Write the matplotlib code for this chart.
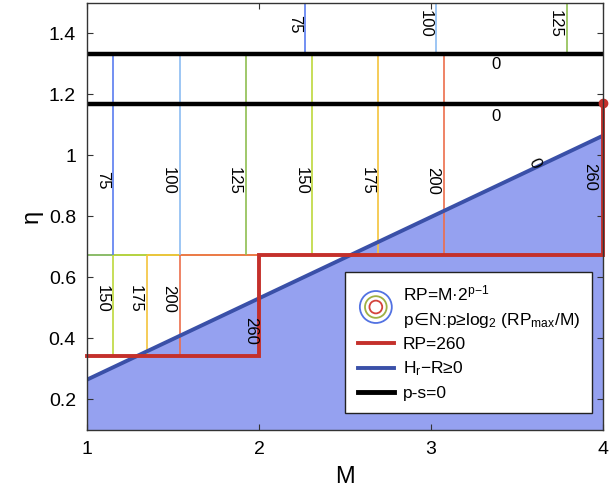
import matplotlib
matplotlib.use('Agg')
import matplotlib.pyplot as plt
from matplotlib.lines import Line2D
from matplotlib.patches import Circle
from matplotlib.legend_handler import HandlerBase
from matplotlib.ticker import FormatStrFormatter

plt.rcParams.update({
    'font.family': ['Liberation Sans', 'DejaVu Sans'],
    'font.size': 12,
    'mathtext.fontset': 'custom',
    'mathtext.rm': 'Liberation Sans',
    'mathtext.it': 'Liberation Sans',
    'mathtext.sf': 'DejaVu Sans',
    'mathtext.default': 'regular',
    'xtick.direction': 'in',
    'ytick.direction': 'in',
})

# ── Datos ────────────────────────────────────────────────────────────────────
# bandas de eta (límites)
ETA_LOW = [0.341, 0.675]
ETA_MID = [0.675, 1.333]
ETA_TOP = [1.333, 1.5]

# contornos RP: niveles y posición M en cada banda
LEVELS_LOW = [150, 175, 200]
M_LOW      = [1.154, 1.346, 1.538]
LEVELS_MID = [75, 100, 125, 150, 175, 200]
M_MID      = [1.154, 1.538, 1.923, 2.308, 2.692, 3.077]
LEVELS_TOP = [75, 100, 125]
M_TOP      = [2.27, 3.03, 3.79]

LEVEL_COLORS = {75: '#5a7df0', 100: '#8cbcf2', 125: '#8fbf52',
                150: '#bdd83c', 175: '#f4c43c', 200: '#ec6e4c'}

# RP = 260 (escalón rojo)
RP260_M   = [1, 2, 2, 4, 4]
RP260_ETA = [0.341, 0.341, 0.675, 0.675, 1.172]

# Hr - R >= 0 (recta azul)
HR_M   = [1, 4]
HR_ETA = [0.265, 1.065]

# p - s = 0 (rectas negras)
PS_ETA = [1.17, 1.333]

XLIM = (1, 4)
YLIM = (0.1, 1.5)

RED   = '#c4302b'
BLUE  = '#3a50a8'
FILL  = '#95a1f0'


class CirclesHandler(HandlerBase):
    # círculos concéntricos, bajados medio renglón (la etiqueta ocupa dos)
    def create_artists(self, legend, orig_handle, xdescent, ydescent,
                       width, height, fontsize, trans):
        cx = width / 2 - xdescent
        cy = height / 2 - ydescent - 0.72 * fontsize
        arts = []
        for r, c in zip([11.5, 7.8, 4.6], ['#5272e2', '#9fb044', '#d4433c']):
            arts.append(Circle((cx, cy), r, fill=False, ec=c, lw=1.3,
                               transform=trans))
        return arts


fig = plt.figure(figsize=(6.11, 4.99), dpi=100)
ax = fig.add_axes([0.1424, 0.1383, 0.8445, 0.8557])

# región Hr - R >= 0
ax.fill_between(HR_M, YLIM[0], HR_ETA, color=FILL, lw=0, zorder=1)

# horizontales de los contornos en el límite de bandas (x entre 1 y 2)
for lev, m in zip(LEVELS_MID, M_MID):
    start = M_LOW[LEVELS_LOW.index(lev)] if lev in LEVELS_LOW else XLIM[0]
    ax.hlines(ETA_LOW[1], start, min(m, 2), color=LEVEL_COLORS[lev],
              lw=1.2, zorder=2)

# verticales de contornos
for lev, m in zip(LEVELS_LOW, M_LOW):
    ax.vlines(m, ETA_LOW[0], ETA_LOW[1], color=LEVEL_COLORS[lev], lw=1.2, zorder=2)
    ax.text(m - 0.065, 0.53, str(lev), rotation=-90, ha='center', va='center',
            fontsize=12, zorder=5)
for lev, m in zip(LEVELS_MID, M_MID):
    ax.vlines(m, ETA_MID[0], ETA_MID[1], color=LEVEL_COLORS[lev], lw=1.2, zorder=2)
    ax.text(m - 0.065, 0.918, str(lev), rotation=-90, ha='center', va='center',
            fontsize=12, zorder=5)
for lev, m in zip(LEVELS_TOP, M_TOP):
    ax.vlines(m, ETA_TOP[0], ETA_TOP[1], color=LEVEL_COLORS[lev], lw=1.2, zorder=2)
    ax.text(m - 0.065, 1.43, str(lev), rotation=-90, ha='center', va='center',
            fontsize=12, zorder=5)

# etiquetas 260
ax.text(1.95, 0.426, '260', rotation=-90, ha='center', va='center', fontsize=12, zorder=5)
ax.text(3.92, 0.93, '260', rotation=-90, ha='center', va='center', fontsize=12, zorder=5)

# recta azul
ax.plot(HR_M, HR_ETA, color=BLUE, lw=2.8, zorder=3, solid_capstyle='butt')
ax.text(3.6, 0.975, '0', rotation=-65, ha='center', va='center', fontsize=12, zorder=5)

# rectas negras p - s = 0
for e in PS_ETA:
    ax.axhline(e, color='black', lw=3.2, zorder=4)
ax.text(3.38, 1.298, '0', ha='center', va='center', fontsize=12, zorder=5)
ax.text(3.38, 1.128, '0', ha='center', va='center', fontsize=12, zorder=5)

# escalón RP = 260
ax.plot(RP260_M, RP260_ETA, color=RED, lw=2.8, zorder=4, clip_on=False,
        solid_joinstyle='miter')
ax.plot(RP260_M[-1], RP260_ETA[-1], 'o', color=RED, ms=6, zorder=6, clip_on=False)

ax.set_xlim(XLIM)
ax.set_ylim(YLIM)
ax.set_xticks([1, 2, 3, 4])
ax.set_yticks([0.2, 0.4, 0.6, 0.8, 1.0, 1.2, 1.4])
ax.yaxis.set_major_formatter(FormatStrFormatter('%g'))
ax.tick_params(top=True, right=True, length=4, width=0.8, color='#333333',
               labelsize=14, pad=8)
for s in ax.spines.values():
    s.set_color('#333333')
    s.set_linewidth(1.0)
    s.set_zorder(7)

ax.set_xlabel('M', fontsize=17, labelpad=6)
ax.set_ylabel('η', fontsize=17, labelpad=4)

handles = [object(),
           Line2D([], [], color='none', lw=0),
           Line2D([], [], color=RED, lw=2.8),
           Line2D([], [], color=BLUE, lw=2.8),
           Line2D([], [], color='black', lw=3.5)]
labels = ['RP=M·2$^{p{-}1}$',
          'p$\\!\\mathsf{\\in}\\!$N:p≥log$_2$ (RP$_{max}$/M)',
          'RP=260', 'H$_r$−R≥0', 'p-s=0']
leg = ax.legend(handles, labels, handler_map={object: CirclesHandler()},
                loc='lower right', bbox_to_anchor=(0.979, 0.04),
                borderaxespad=0, fancybox=False, framealpha=1,
                edgecolor='#222222', fontsize=12.5, handlelength=2.1,
                handletextpad=0.5, labelspacing=0.42, borderpad=0.7)
leg.get_frame().set_linewidth(1.0)
leg.set_zorder(8)

fig.savefig('out.png', dpi=100)
